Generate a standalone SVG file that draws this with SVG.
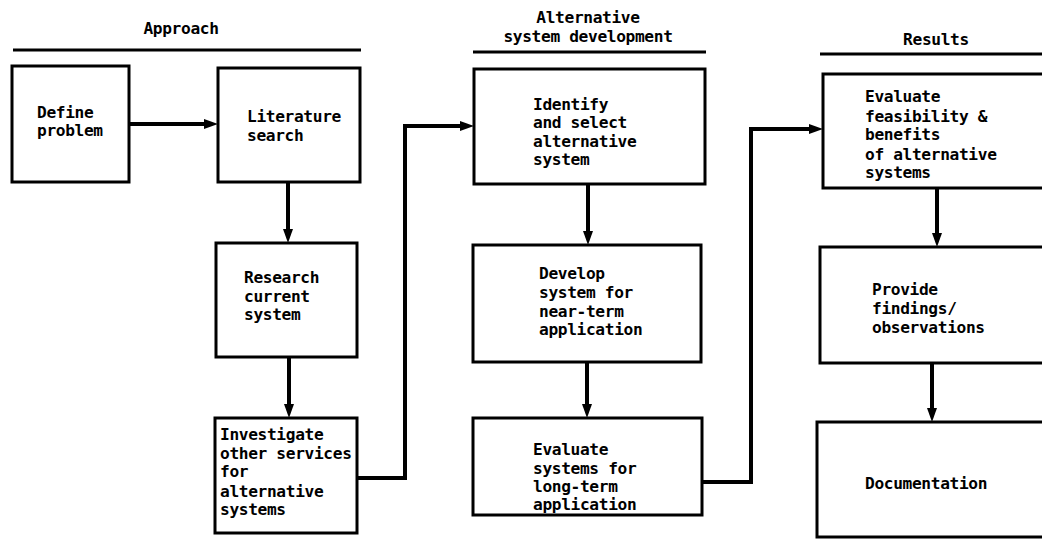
<svg xmlns="http://www.w3.org/2000/svg" width="1042" height="540" viewBox="0 0 1042 540">
<style>
.box{fill:#fff;stroke:#000;stroke-width:3}
.t{font-family:"DejaVu Sans Mono","Liberation Mono",monospace;font-weight:bold;font-size:16.2px;letter-spacing:-0.35px;fill:#000}
.hl{stroke:#000;stroke-width:3;fill:none}
.c{stroke:#000;stroke-width:4;fill:none;marker-end:url(#ah)}
</style>
<defs>
<marker id="ah" markerUnits="userSpaceOnUse" markerWidth="16" markerHeight="12" refX="3" refY="5.5" orient="auto">
<path d="M0,0.5 L14,5.5 L0,10.5 z" fill="#000"/>
</marker>
</defs>
<rect width="1042" height="540" fill="#fff"/>

<g id="headers">
<text class="t" x="181" y="34" text-anchor="middle">Approach</text>
<line class="hl" x1="13" y1="50" x2="361" y2="50"/>
<text class="t" x="588" y="23" text-anchor="middle">Alternative</text>
<text class="t" x="588" y="42" text-anchor="middle">system development</text>
<line class="hl" x1="473" y1="52" x2="706" y2="52"/>
<text class="t" x="936" y="45" text-anchor="middle">Results</text>
<line class="hl" x1="820" y1="54" x2="1042" y2="54"/>
</g>

<g id="connectors">
<path class="c" d="M129,124 H207"/>
<path class="c" d="M288,182 V232"/>
<path class="c" d="M289,357 V407"/>
<path class="c" d="M357,478 H405 V126 H463"/>
<path class="c" d="M588,184 V234"/>
<path class="c" d="M587,362 V407"/>
<path class="c" d="M702,482 H751 V129 H812"/>
<path class="c" d="M937,188 V236"/>
<path class="c" d="M932,363 V411"/>
</g>

<g id="define">
<rect class="box" x="12" y="66" width="117" height="116"/>
<text class="t" x="37" y="118">Define</text>
<text class="t" x="37" y="136">problem</text>
</g>
<g id="literature">
<rect class="box" x="218" y="68" width="142" height="114"/>
<text class="t" x="247" y="122">Literature</text>
<text class="t" x="247" y="141">search</text>
</g>
<g id="research">
<rect class="box" x="216" y="243" width="141" height="114"/>
<text class="t" x="244" y="283">Research</text>
<text class="t" x="244" y="302">current</text>
<text class="t" x="244" y="320">system</text>
</g>
<g id="investigate">
<rect class="box" x="215" y="418" width="142" height="115"/>
<text class="t" x="220" y="440">Investigate</text>
<text class="t" x="220" y="459">other services</text>
<text class="t" x="220" y="477">for</text>
<text class="t" x="220" y="497">alternative</text>
<text class="t" x="220" y="515">systems</text>
</g>
<g id="identify">
<rect class="box" x="474" y="69" width="231" height="115"/>
<text class="t" x="533" y="110">Identify</text>
<text class="t" x="533" y="128">and select</text>
<text class="t" x="533" y="147">alternative</text>
<text class="t" x="533" y="165">system</text>
</g>
<g id="develop">
<rect class="box" x="473" y="245" width="228" height="117"/>
<text class="t" x="539" y="279">Develop</text>
<text class="t" x="539" y="298">system for</text>
<text class="t" x="539" y="317">near-term</text>
<text class="t" x="539" y="335">application</text>
</g>
<g id="evaluate-systems">
<rect class="box" x="473" y="418" width="229" height="97"/>
<text class="t" x="533" y="455">Evaluate</text>
<text class="t" x="533" y="474">systems for</text>
<text class="t" x="533" y="492">long-term</text>
<text class="t" x="533" y="510">application</text>
</g>
<g id="feasibility">
<rect class="box" x="823" y="74" width="240" height="114"/>
<text class="t" x="865" y="102">Evaluate</text>
<text class="t" x="865" y="122">feasibility &amp;</text>
<text class="t" x="865" y="140">benefits</text>
<text class="t" x="865" y="160">of alternative</text>
<text class="t" x="865" y="178">systems</text>
</g>
<g id="provide">
<rect class="box" x="820" y="247" width="240" height="116"/>
<text class="t" x="872" y="295">Provide</text>
<text class="t" x="872" y="314">findings/</text>
<text class="t" x="872" y="333">observations</text>
</g>
<g id="documentation">
<rect class="box" x="817" y="422" width="240" height="115"/>
<text class="t" x="865" y="489">Documentation</text>
</g>
</svg>
